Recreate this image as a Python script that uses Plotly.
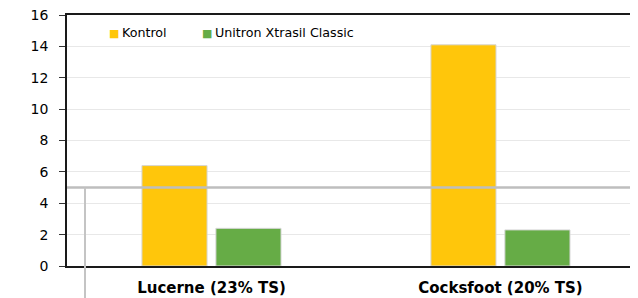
import plotly.graph_objects as go

categories = ["Lucerne (23% TS)", "Cocksfoot (20% TS)"]
kontrol = [6.4, 14.1]
unitron = [2.4, 2.3]
series_names = ["Kontrol", "Unitron Xtrasil Classic"]
threshold = 5
y_ticks = [0, 2, 4, 6, 8, 10, 12, 14, 16]

YELLOW = "#FFC60B"
GREEN = "#66AC46"
YMAX = 16
COLORS = [YELLOW, GREEN]

fig = go.Figure()
for name, vals, col in zip(series_names, [kontrol, unitron], COLORS):
    fig.add_trace(go.Bar(
        x=categories, y=vals, name=name, showlegend=False,
        marker=dict(color=col, line=dict(color="#D6D6D6", width=1)),
    ))

# legend drawn as annotations (small square + label)
legend_x = [0.07, 0.233]
annotations = []
for name, col, lx in zip(series_names, COLORS, legend_x):
    annotations.append(dict(
        xref="paper", yref="paper", x=lx, y=0.932, xanchor="left", yanchor="middle",
        showarrow=False,
        text=f"<span style='color:{col};font-size:11px'>■</span>\u2009{name}",
        font=dict(family="DejaVu Sans", size=12.7, color="#000"),
    ))

# the page body has an 8px default margin; the figure is sized to fill the window
fig.update_layout(
    width=630, height=290,
    margin=dict(l=59, r=0, t=7, b=32),
    paper_bgcolor="white", plot_bgcolor="white",
    barmode="group", bargap=0.488, bargroupgap=0.12,
    font=dict(family="DejaVu Sans", size=13, color="#000"),
    showlegend=False,
    annotations=annotations,
    xaxis=dict(range=[-0.5, 1.476], showline=True, linecolor="#1a1a1a", linewidth=1.5,
               mirror=True, ticks="", showgrid=False, automargin=False,
               tickfont=dict(family="DejaVu Sans", size=15, color="#000", weight="bold"),
               ticklabelstandoff=7),
    yaxis=dict(range=[0, YMAX], tickvals=y_ticks, showline=True, linecolor="#1a1a1a",
               linewidth=1.5, ticks="outside", ticklen=6, tickcolor="#333", tickwidth=1,
               showgrid=True, gridcolor="#E8E8E8", gridwidth=1, zeroline=False,
               automargin=False, ticklabeloverflow="allow",
               tickfont=dict(family="DejaVu Sans", size=14, color="#000"),
               ticklabelstandoff=8),
    shapes=[
        dict(type="line", xref="paper", x0=0, x1=1, yref="y", y0=threshold, y1=threshold,
             line=dict(color="#BEBEBE", width=2.5)),
        dict(type="line", xref="paper", x0=0.0315, x1=0.0315, yref="paper",
             y0=threshold / YMAX, y1=-0.13, line=dict(color="#C4C4C4", width=2)),
    ],
)

fig.write_html("out.html")
